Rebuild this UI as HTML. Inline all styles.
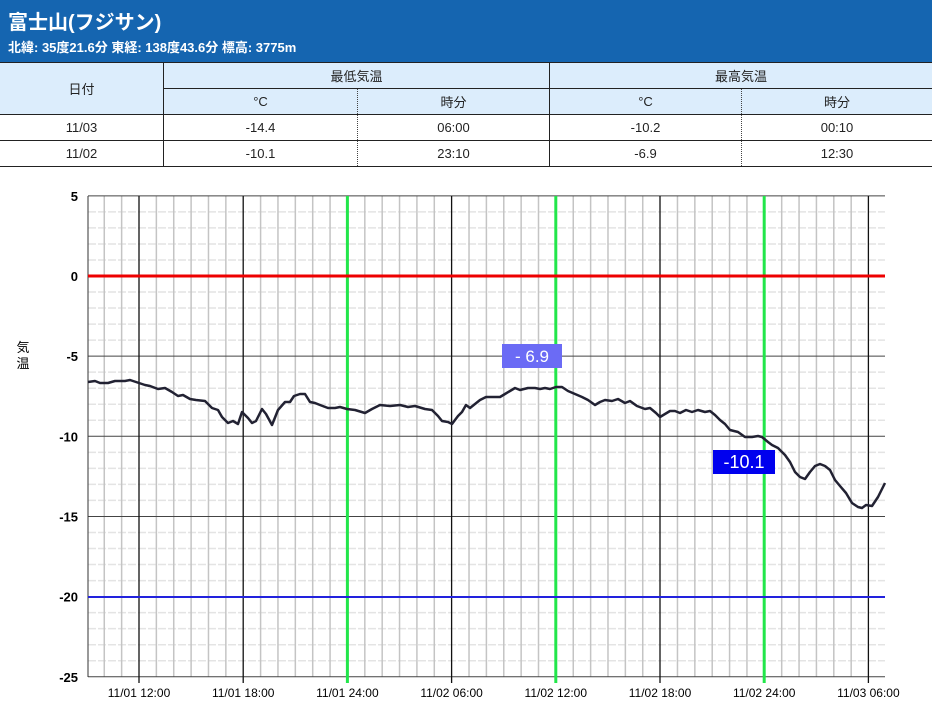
<!DOCTYPE html>
<html><head><meta charset="utf-8">
<style>
body{margin:0;width:932px;height:724px;background:#fff;font-family:"Liberation Sans","Noto Sans CJK JP",sans-serif;overflow:hidden;position:relative}
.hd{position:absolute;left:0;top:0;width:932px;height:62px;background:#1565b0;color:#fff}
.hd .t{position:absolute;left:8px;top:6px;font-size:20px;font-weight:bold}
.hd .s{position:absolute;left:8px;top:37px;font-size:13px;font-weight:bold}
table{position:absolute;left:0;top:62px;width:932px;border-collapse:collapse;font-size:13px;color:#222}
td{text-align:center;border:1px solid #222;padding:0;height:25px}
.h td{background:#dcedfc}
td.d{border-right:1px dotted #444}
td.e{border-left:1px dotted #444}
svg{position:absolute;left:0;top:0}
</style></head><body>
<div class="hd"><div class="t">富士山(フジサン)</div><div class="s">北緯: 35度21.6分 東経: 138度43.6分 標高: 3775m</div></div>
<table>
<tr class="h"><td rowspan="2" style="width:163px;border-left:none">日付</td><td colspan="2">最低気温</td><td colspan="2" style="border-right:none">最高気温</td></tr>
<tr class="h"><td class="d" style="width:193px">°C</td><td class="e" style="width:191px">時分</td><td class="d" style="width:191px">°C</td><td class="e" style="border-right:none">時分</td></tr>
<tr><td style="border-left:none">11/03</td><td class="d">-14.4</td><td class="e">06:00</td><td class="d">-10.2</td><td class="e" style="border-right:none">00:10</td></tr>
<tr><td style="border-left:none">11/02</td><td class="d">-10.1</td><td class="e">23:10</td><td class="d">-6.9</td><td class="e" style="border-right:none">12:30</td></tr>
</table>
<svg width="932" height="724" id="c" font-family="Liberation Sans, Noto Sans CJK JP, sans-serif"></svg>
<script>
var s='',L=88,R=885,T=196,B=677;
for(var v=5;v>=-25;v--){var y=276-v*16.03;if(v%5)s+='<line x1="'+L+'" x2="'+R+'" y1="'+y+'" y2="'+y+'" stroke="#e4e4e4" stroke-width="1.5" stroke-dasharray="8,2"/>';}
for(var k=-2;k<=43;k++){var x=139+k*17.37;if(x<L||x>R)continue;if(k%6)s+='<line x1="'+x+'" x2="'+x+'" y1="'+T+'" y2="'+B+'" stroke="#c4c4c4" stroke-width="1.5"/>';}
for(var v=5;v>=-25;v-=5){var y=276-v*16.03;s+='<line x1="'+L+'" x2="'+R+'" y1="'+y+'" y2="'+y+'" stroke="#444" stroke-width="1"/>';s+='<text x="78" y="'+(y+5)+'" font-size="13" font-weight="bold" text-anchor="end" fill="#000">'+v+'</text>';}
var labs=['11/01 12:00','11/01 18:00','11/01 24:00','11/02 06:00','11/02 12:00','11/02 18:00','11/02 24:00','11/03 06:00'];
for(var i=0;i<8;i++){var x=139+i*104.2;var g=(i==2||i==4||i==6);s+='<line x1="'+x+'" x2="'+x+'" y1="'+T+'" y2="'+(B+6)+'" stroke="'+(g?'#22e64a':'#111')+'" stroke-width="'+(g?3:1.3)+'"/>';s+='<text x="'+x+'" y="697" font-size="12" text-anchor="middle" fill="#000">'+labs[i]+'</text>';}
s+='<line x1="'+L+'" x2="'+L+'" y1="'+T+'" y2="'+B+'" stroke="#333"/>';
s+='<line x1="'+L+'" x2="'+R+'" y1="276" y2="276" stroke="#e00" stroke-width="3"/>';
s+='<line x1="'+L+'" x2="'+R+'" y1="597" y2="597" stroke="#2222dd" stroke-width="2"/>';
var p="88,382 95,381 100,383 108,383 115,381 125,381 130,380 139,383 145,385 150,386 158,389 165,388 172,392 178,396 183,395 190,399 196,400 205,401 212,408 218,410 222,417 228,423 233,421 238,424 242,412 248,418 252,423 256,421 262,409 266,414 272,425 278,410 285,402 290,402 294,396 300,394 305,394 310,402 315,403 320,405 328,408 335,408 340,407 347,409 355,410 365,413 372,409 380,405 390,406 400,405 408,407 415,406 425,409 432,410 438,416 442,421 448,422 452,424 458,416 462,412 466,405 470,408 475,404 480,400 486,397 493,397 500,397 505,394 510,391 515,388 520,390 528,388 535,388 540,389 545,388 550,389 556,387 562,387 568,391 575,394 582,397 588,400 595,405 600,402 605,400 612,401 618,399 625,403 630,401 637,406 645,409 650,408 656,413 660,417 665,414 670,411 675,411 680,413 686,410 692,412 698,410 705,412 710,411 715,415 720,420 725,424 730,430 738,432 745,437 752,437 758,436 762,437 768,442 772,445 778,448 785,455 790,462 795,472 800,477 805,479 810,472 815,466 820,464 825,466 830,470 835,480 840,486 846,493 852,503 858,507 862,508 866,505 872,506 878,497 885,483";
s+='<polyline points="'+p+'" fill="none" stroke="#222233" stroke-width="2.5" stroke-linejoin="round"/>';
s+='<rect x="502" y="344" width="60" height="24" fill="#6b6bf5"/><text x="532" y="362" font-size="17" fill="#fff" text-anchor="middle">- 6.9</text>';
s+='<rect x="713" y="450" width="62" height="24" fill="#0000ee"/><text x="744" y="468" font-size="18" fill="#fff" text-anchor="middle">-10.1</text>';
s+='<text x="23" y="352" font-size="13" text-anchor="middle" fill="#000">気</text><text x="23" y="368" font-size="13" text-anchor="middle" fill="#000">温</text>';
document.getElementById('c').innerHTML=s;
</script>
</body></html>
